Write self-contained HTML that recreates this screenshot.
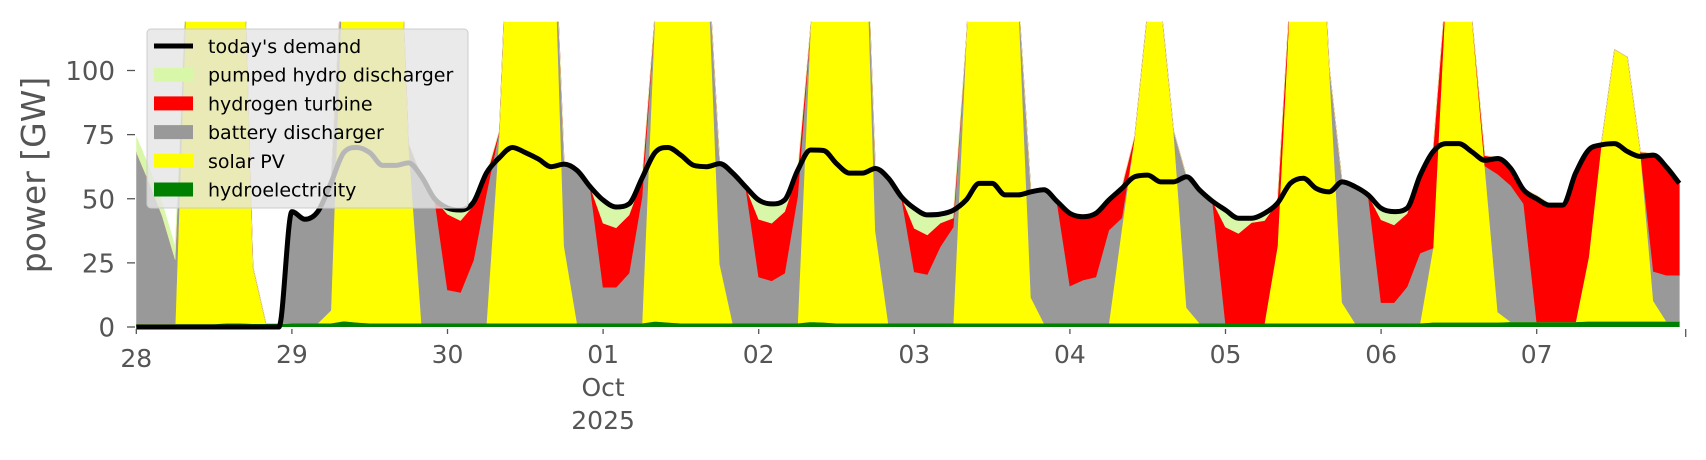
<!DOCTYPE html>
<html>
<head>
<meta charset="utf-8">
<style>
html,body{margin:0;padding:0;background:#fff;}
svg{display:block;font-family:"DejaVu Sans","Liberation Sans",sans-serif;}
</style>
</head>
<body>
<svg id="chart" width="1706" height="460" viewBox="0 0 1706 460" xmlns="http://www.w3.org/2000/svg">
  <defs>
    <clipPath id="plotclip"><rect x="136.3" y="21.7" width="1549.7" height="305.3"/></clipPath>
  </defs>
  <g id="areas" clip-path="url(#plotclip)"></g>
  <g id="demandg"></g>
  <g id="axes"></g>
  <g id="legend"></g>
</svg>
<script>
// 2-hourly samples starting 28 Sep 00:00
const dayLabels = ["28","29","30","01","02","03","04","05","06","07"];
const yTicks = [0,25,50,75,100];
const demand = [
 0,0,0,0,0,0,0,0,0,0,0,0,
 45,42,45,56,68,70,68,63,63,64,58.6,50,
 46.4,45.6,48.6,60,66,70,68,65.5,62.5,63.5,61,54.7,
 49.5,46.8,48,58,68,70,67,63,62.5,63.7,60,54.6,
 49.5,48,49.5,61,69,68.8,63.7,60,60,61.8,58,50.8,
 46.3,43.7,44,45.5,49.5,56,56,51.5,51.5,52.7,53.5,49,
 44.3,43,44.3,49.5,54,58.6,59.2,56.6,56.6,58.6,53.4,49,
 45.6,42.4,42.4,44.3,48.2,56,58,54,52.7,56.6,54.7,51.5,
 46.3,45,46.3,59,68.3,71.5,71.5,68.3,65,65.7,61.8,53.4,
 50,47.5,47.5,60,69,71,71.5,68.4,66.5,67,62.4,56
];
const hydro = [
 1.2,1.2,1.2,1.2,1.2,1.2,1.2,1.5,1.5,1.3,1.3,1.3,
 1.5,1.5,1.5,1.5,2.3,1.8,1.5,1.5,1.5,1.5,1.5,1.5,
 1.5,1.5,1.5,1.5,1.5,1.5,1.5,1.5,1.5,1.5,1.5,1.5,
 1.5,1.5,1.5,1.5,2.2,1.8,1.5,1.5,1.5,1.5,1.5,1.5,
 1.5,1.5,1.5,1.5,2,1.8,1.5,1.5,1.5,1.5,1.5,1.5,
 1.5,1.5,1.5,1.5,1.5,1.5,1.5,1.5,1.5,1.5,1.5,1.5,
 1.5,1.5,1.5,1.5,1.5,1.5,1.5,1.5,1.5,1.5,1.5,1.5,
 1.5,1.5,1.5,1.5,1.5,1.5,1.5,1.5,1.5,1.5,1.5,1.5,
 1.5,1.5,1.5,1.5,1.8,1.8,1.8,1.8,1.8,1.8,2,2,
 2,2,2,2,2.2,2.2,2.2,2.2,2.2,2.2,2.2,2.2
];
const solar = [
 0,0,0,0,150,200,200,200,200,22,0,0,
 0,0,0,5,150,200,200,200,200,70,0,0,
 0,0,0,0,75,200,200,200,190,30,0,0,
 0,0,0,0,120,200,200,200,150,23,0,0,
 0,0,0,0,115,200,200,200,200,36,0,0,
 0,0,0,0,110,200,200,200,130,10,0,0,
 0,0,0,0,37,73,122,125,75,6,0,0,
 0,0,0,0,30,130,200,200,100,8,0,0,
 0,0,0,0,29,130,200,119,61,4,0,0,
 0,0,0,0,25,70,106,103,66,8,0,0
];
const battery = [
 67,55,42,25,0,0,0,0,0,0,0,0,
 43.5,40.5,43.5,49.5,0,0,0,0,0,0,57,48.5,
 13,12,24.5,50.5,0,0,0,0,0,32,59.5,53.2,
 14,14,19.5,49.3,0,0,0,0,0,39,58.5,53,
 18,16.5,19.5,49.5,0,0,0,0,0,24.3,56.5,49.3,
 20,19,29.8,37.5,0,0,0,0,0,41,52,47.5,
 14.5,16.8,18,36.3,4,0,0,0,0,51,52,47.5,
 0,0,0,0,0,0,0,0,0,47,53,50,
 8,8,14.2,27.3,0,0,0,0,0,53.8,53.2,46,
 0,0,0,0,0,0,0,0,0,11.5,18,18
];
const hydrogen = [
 0,0,0,0,0,0,0,0,0,0,0,0,
 0,0,0,0,0,0,0,0,0,0,0,0,
 29.5,28,21.4,7,0,0,0,0,0,0,0,0,
 25,23.2,22.7,6.5,0,0,0,0,0,0,0,0,
 22.5,22.5,24,9,0,0,0,0,0,0,0,0,
 17,15.4,9.2,3.5,0,0,0,0,0,0,0,0,
 28.3,24.7,24.7,11.7,12,0,0,0,0,0,0,0,
 37.5,35,39.2,40,17,0,0,0,0,0,0,0,
 32.3,30.3,28.5,30.2,38,0,0,0,4,6.4,7,5.8,
 49.3,46,46,58.5,42.5,0,0,0,0,46,42.8,36.4
];
const pumped = [
 6,6,5,5,0,0,0,0,0,0,0,0,
 0,0,0,0,0,0,0,0,0,0,0,0,
 2.4,4.6,1.6,1,0,0,0,0,0,0,0,0,
 9,8.3,4.3,0.7,0,0,0,0,0,0,0,0,
 7.5,7.5,4.5,1,0,0,0,0,0,0,0,0,
 7.7,7.8,3.5,2,0,0,0,0,0,0,0,0,
 0,0,0,0,0,0,0,0,0,0,0,0,
 6.6,5.8,1.7,2.8,0,0,0,0,0,0,0,0,
 4.6,5.3,2.1,0,0,0,0,0,0,0,0,0,
 0,0,0,0,0,0,0,0,0,0,0,0
];

const NS = "http://www.w3.org/2000/svg";
const X0 = 136.3, DAYPX = 155.6, Y0 = 327, PXV = 2.565;
const STEP_H = 2;
function xScale(hour){ return X0 + hour * DAYPX / 24; }
function yScale(v){ return Y0 - v * PXV; }
function mk(tag, attrs){ const e = document.createElementNS(NS, tag); for (const k in attrs) e.setAttribute(k, attrs[k]); return e; }

const areas = document.getElementById('areas');
const seriesList = [
  {vals: hydro, color: '#008000', name: 'hydroelectricity-area'},
  {vals: solar, color: '#ffff00', name: 'solar-pv-area'},
  {vals: battery, color: '#999999', name: 'battery-discharger-area'},
  {vals: hydrogen, color: '#ff0000', name: 'hydrogen-turbine-area'},
  {vals: pumped, color: '#d9f7a8', name: 'pumped-hydro-area'}
];
const n = demand.length;
let base = new Array(n).fill(0);
seriesList.forEach(s => {
  const top = base.map((b, i) => b + s.vals[i]);
  let pts = [];
  for (let i = 0; i < n; i++) pts.push(xScale(i * STEP_H).toFixed(2) + ',' + yScale(top[i]).toFixed(2));
  for (let i = n - 1; i >= 0; i--) pts.push(xScale(i * STEP_H).toFixed(2) + ',' + yScale(base[i]).toFixed(2));
  const p = mk('polygon', {points: pts.join(' '), fill: s.color, stroke: s.color, 'stroke-width': 0.6});
  
  
  areas.appendChild(p);
  base = top;
});

// demand line (monotone cubic smoothing through data points)
function monotonePath(xs, ys){
  const m = xs.length, d = [], t = new Array(m);
  for (let i = 0; i < m - 1; i++) d.push((ys[i+1]-ys[i])/(xs[i+1]-xs[i]));
  t[0] = d[0]; t[m-1] = d[m-2];
  for (let i = 1; i < m - 1; i++) t[i] = (d[i-1]*d[i] <= 0) ? 0 : (d[i-1]+d[i])/2;
  for (let i = 0; i < m - 1; i++) {
    if (d[i] === 0) { t[i] = 0; t[i+1] = 0; continue; }
    const a = t[i]/d[i], b = t[i+1]/d[i], h = a*a + b*b;
    if (h > 9) { const k = 3/Math.sqrt(h); t[i] = k*a*d[i]; t[i+1] = k*b*d[i]; }
  }
  let s = 'M' + xs[0].toFixed(2) + ',' + ys[0].toFixed(2);
  for (let i = 0; i < m - 1; i++) {
    const dx = (xs[i+1]-xs[i])/3;
    s += ' C' + (xs[i]+dx).toFixed(2) + ',' + (ys[i]+t[i]*dx).toFixed(2) + ' ' +
         (xs[i+1]-dx).toFixed(2) + ',' + (ys[i+1]-t[i+1]*dx).toFixed(2) + ' ' +
         xs[i+1].toFixed(2) + ',' + ys[i+1].toFixed(2);
  }
  return s;
}
const dg = document.getElementById('demandg');
const dxs = demand.map((v, i) => xScale(i * STEP_H));
const dys = demand.map(v => yScale(v));
const dl = mk('path', {d: monotonePath(dxs, dys), fill: 'none', stroke: '#000', 'stroke-width': 5, 'stroke-linejoin': 'round'});


dg.appendChild(dl);

// axes
const ax = document.getElementById('axes');
yTicks.forEach(v => {
  const y = yScale(v);
  const t = mk('line', {x1: 127, x2: 135, y1: y, y2: y, stroke: '#555', 'stroke-width': 1.3});
  
  
  ax.appendChild(t);
  const tx = mk('text', {x: 115, y: y + 9.5, 'text-anchor': 'end', 'font-size': 26, fill: '#555'});
  tx.textContent = String(v);
  
  
  ax.appendChild(tx);
});
dayLabels.forEach((d, i) => {
  const x = xScale(i * 24);
  const t = mk('line', {x1: x, x2: x, y1: 329, y2: 334, stroke: '#555', 'stroke-width': 1.3});
  
  
  ax.appendChild(t);
  const tx = mk('text', {x: x, y: i === 0 ? 367 : 363, 'text-anchor': 'middle', 'font-size': 25, fill: '#555'});
  tx.textContent = d;
  
  
  ax.appendChild(tx);
  if (d === '01') {
    const m = mk('text', {x: x, y: 396, 'text-anchor': 'middle', 'font-size': 25, fill: '#555'});
    m.textContent = 'Oct';
    
    
    ax.appendChild(m);
    const yr = mk('text', {x: x, y: 429, 'text-anchor': 'middle', 'font-size': 25, fill: '#555'});
    yr.textContent = '2025';
    
    
    ax.appendChild(yr);
  }
});
const endTick = mk('line', {x1: 1685.7, x2: 1685.7, y1: 329, y2: 337, stroke: '#555', 'stroke-width': 1.3});


ax.appendChild(endTick);
const yl = mk('text', {x: 0, y: 0, 'text-anchor': 'middle', 'font-size': 33, fill: '#555', transform: 'translate(45,175) rotate(-90)'});
yl.textContent = 'power [GW]';


ax.appendChild(yl);

// legend
const lg = document.getElementById('legend');
const box = mk('rect', {x: 147, y: 29, width: 321, height: 179, rx: 4, fill: '#e5e5e5', 'fill-opacity': 0.8, stroke: '#cccccc', 'stroke-width': 1});


lg.appendChild(box);
const entries = [
  {label: "today's demand", color: '#000', line: true, name: 'legend-entry-demand'},
  {label: 'pumped hydro discharger', color: '#d9f7a8', name: 'legend-entry-pumped-hydro'},
  {label: 'hydrogen turbine', color: '#ff0000', name: 'legend-entry-hydrogen'},
  {label: 'battery discharger', color: '#999999', name: 'legend-entry-battery'},
  {label: 'solar PV', color: '#ffff00', name: 'legend-entry-solar'},
  {label: 'hydroelectricity', color: '#008000', name: 'legend-entry-hydro'}
];
entries.forEach((e, i) => {
  const cy = 46 + i * 28.7;
  const g = mk('g', {});
  
  
  if (e.line) {
    g.appendChild(mk('line', {x1: 154, x2: 193, y1: cy, y2: cy, stroke: '#000', 'stroke-width': 5}));
  } else {
    g.appendChild(mk('rect', {x: 154, y: cy - 7, width: 39, height: 14, fill: e.color}));
  }
  const t = mk('text', {x: 208, y: cy + 7, 'font-size': 19, fill: '#000'});
  t.textContent = e.label;
  g.appendChild(t);
  lg.appendChild(g);
});
</script>
</body>
</html>
